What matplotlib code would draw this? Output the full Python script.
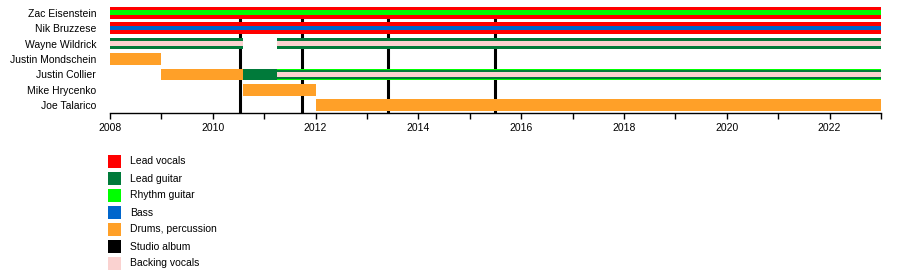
import matplotlib
matplotlib.use("Agg")
import matplotlib.pyplot as plt
from matplotlib.patches import Rectangle

plt.rcParams['font.family'] = ['Liberation Sans', 'DejaVu Sans']

# role colours
LEAD_VOCALS = "#ff0000"
LEAD_GUITAR = "#007a3a"
RHYTHM_GUITAR = "#00ff00"
BASS = "#0066cc"
DRUMS = "#ffa028"
ALBUM = "#000000"
BACKING = "#fad2d0"

members = ["Zac Eisenstein", "Nik Bruzzese", "Wayne Wildrick", "Justin Mondschein",
           "Justin Collier", "Mike Hrycenko", "Joe Talarico"]

# (member, start, end, [main role, inner role, ...]) - inner roles drawn as thinner stripes
spans = [
    ("Zac Eisenstein", 2008.0, 2023.0, [LEAD_VOCALS, RHYTHM_GUITAR]),
    ("Nik Bruzzese", 2008.0, 2023.0, [LEAD_VOCALS, BASS]),
    ("Wayne Wildrick", 2008.0, 2010.58, [LEAD_GUITAR, BACKING]),
    ("Wayne Wildrick", 2011.24, 2023.0, [LEAD_GUITAR, BACKING]),
    ("Justin Mondschein", 2008.0, 2009.0, [DRUMS]),
    ("Justin Collier", 2009.0, 2010.58, [DRUMS]),
    ("Justin Collier", 2010.58, 2011.24, [LEAD_GUITAR]),
    ("Justin Collier", 2011.24, 2023.0, [RHYTHM_GUITAR, LEAD_GUITAR, BACKING]),
    ("Mike Hrycenko", 2010.58, 2012.0, [DRUMS]),
    ("Joe Talarico", 2012.0, 2023.0, [DRUMS]),
]

albums = [2010.53, 2011.74, 2013.40, 2015.49]

legend_labels = ["Lead vocals", "Lead guitar", "Rhythm guitar", "Bass",
                 "Drums, percussion", "Studio album", "Backing vocals"]
legend_colors = [LEAD_VOCALS, LEAD_GUITAR, RHYTHM_GUITAR, BASS, DRUMS, ALBUM, BACKING]

START, END = 2008, 2023

fig = plt.figure(figsize=(9, 2.73), dpi=100)
ax = fig.add_axes([110/900, 1 - 113/273, 771/900, 108/273])

bar_h = 0.76
stripe_heights = {1: [bar_h], 2: [bar_h, 0.29], 3: [bar_h, 0.53, 0.27]}

# album release lines, behind the bars
ax.vlines(albums, 6.5, -bar_h/2, color=ALBUM, lw=2.2, zorder=1)

for name, s, e, roles in spans:
    row = members.index(name)
    for h, c in zip(stripe_heights[len(roles)], roles):
        ax.barh(row, e - s, left=s, height=h, color=c, linewidth=0, zorder=2)

ax.set_xlim(START, END)
ax.set_ylim(6.5, -0.5)
ax.set_yticks(range(len(members)))
ax.set_yticklabels(members, fontsize=7.5)
ax.tick_params(axis='y', length=0, pad=10)
ax.set_xticks(range(START, END + 1, 2))
ax.set_xticks(range(START, END + 1), minor=True)
ax.tick_params(axis='x', which='both', direction='out', length=4, width=1, labelsize=7.5, pad=3)
for sp in ['top', 'right', 'left']:
    ax.spines[sp].set_visible(False)
ax.spines['bottom'].set_linewidth(1)

# legend drawn by hand below the chart
for i, (lab, col) in enumerate(zip(legend_labels, legend_colors)):
    top = 155 + 17 * i
    fig.patches.append(Rectangle((108/900, 1 - (top + 13)/273), 13/900, 13/273,
                                 transform=fig.transFigure, color=col, lw=0))
    fig.text(130/900, 1 - (top + 6.5)/273, lab, fontsize=7.5, va='center', ha='left')

fig.savefig("out.png", dpi=100)
